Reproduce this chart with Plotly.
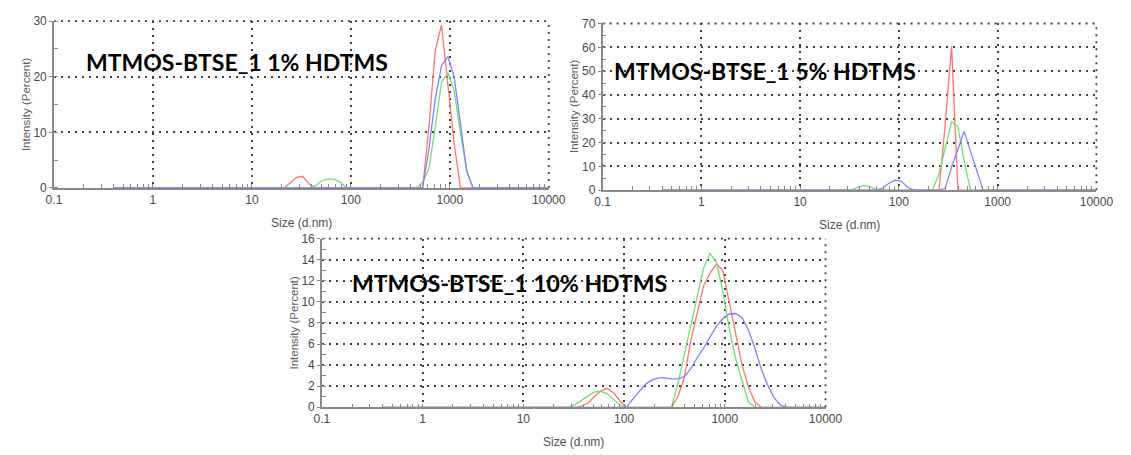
import plotly.graph_objects as go

# Malvern size bins (d.nm)
sizes = [0.4, 0.4632, 0.5365, 0.6213, 0.7195, 0.8332, 0.9649, 1.117, 1.294, 1.499,
         1.736, 2.01, 2.328, 2.696, 3.122, 3.615, 4.187, 4.849, 5.615, 6.503,
         7.531, 8.721, 10.1, 11.7, 13.54, 15.69, 18.17, 21.04, 24.36, 28.21,
         32.67, 37.84, 43.82, 50.75, 58.77, 68.06, 78.82, 91.28, 105.7, 122.4,
         141.8, 164.2, 190.1, 220.2, 255.0, 295.3, 342.0, 396.1, 458.7, 531.2,
         615.1, 712.4, 825.0, 955.4, 1106, 1281, 1484, 1718, 1990, 2305,
         2669, 3091, 3580, 4145, 4801, 5560, 6439, 7456, 8635, 10000]

# Panel 1: 1% HDTMS
p1_red = [0, 0, 0, 0, 0, 0, 0, 0, 0, 0,
          0, 0, 0, 0, 0, 0, 0, 0, 0, 0,
          0, 0, 0, 0, 0, 0, 0, 0, 0.9, 1.9,
          2.1, 0.7, 0, 0, 0, 0, 0, 0, 0, 0,
          0, 0, 0, 0, 0, 0, 0, 0, 0, 0,
          11, 24.7, 29.3, 19, 8, 0, 0, 0, 0, 0,
          0, 0, 0, 0, 0, 0, 0, 0, 0, 0]
p1_green = [0, 0, 0, 0, 0, 0, 0, 0, 0, 0,
            0, 0, 0, 0, 0, 0, 0, 0, 0, 0,
            0, 0, 0, 0, 0, 0, 0, 0, 0, 0,
            0, 0, 0.4, 1.3, 1.6, 1.6, 1.0, 0, 0, 0,
            0, 0, 0, 0, 0, 0, 0, 0, 0, 1.0,
            3.5, 11, 19, 20.7, 17.5, 10, 3, 0, 0, 0,
            0, 0, 0, 0, 0, 0, 0, 0, 0, 0]
p1_blue = [0, 0, 0, 0, 0, 0, 0, 0, 0, 0,
           0, 0, 0, 0, 0, 0, 0, 0, 0, 0,
           0, 0, 0, 0, 0, 0, 0, 0, 0, 0,
           0, 0, 0, 0, 0, 0, 0, 0, 0, 0,
           0, 0, 0, 0, 0, 0, 0, 0, 0, 0,
           7, 16, 22, 23.6, 20, 11.5, 3, 0, 0, 0,
           0, 0, 0, 0, 0, 0, 0, 0, 0, 0]

# Panel 2: 5% HDTMS
p2_red = [0, 0, 0, 0, 0, 0, 0, 0, 0, 0,
          0, 0, 0, 0, 0, 0, 0, 0, 0, 0,
          0, 0, 0, 0, 0, 0, 0, 0, 0, 0,
          0, 0, 0, 0, 0, 0, 0, 0, 0, 0,
          0, 0, 0, 0, 0, 28, 60.4, 0, 0, 0,
          0, 0, 0, 0, 0, 0, 0, 0, 0, 0,
          0, 0, 0, 0, 0, 0, 0, 0, 0, 0]
p2_green = [0, 0, 0, 0, 0, 0, 0, 0, 0, 0,
            0, 0, 0, 0, 0, 0, 0, 0, 0, 0,
            0, 0, 0, 0, 0, 0, 0, 0, 0, 0,
            0, 1.2, 2.0, 1.5, 0.4, 0, 0, 0, 0, 0,
            0, 0, 0, 0, 7, 18, 28.8, 26.7, 12.2, 0,
            0, 0, 0, 0, 0, 0, 0, 0, 0, 0,
            0, 0, 0, 0, 0, 0, 0, 0, 0, 0]
p2_blue = [0, 0, 0, 0, 0, 0, 0, 0, 0, 0,
           0, 0, 0, 0, 0, 0, 0, 0, 0, 0,
           0, 0, 0, 0, 0, 0, 0, 0, 0, 0,
           0, 0, 0, 0, 0, 0.8, 2.8, 4.2, 3.8, 1.2,
           0, 0, 0, 0, 0, 0.8, 9.8, 17.2, 24.7, 16.4,
           8.1, 0, 0, 0, 0, 0, 0, 0, 0, 0,
           0, 0, 0, 0, 0, 0, 0, 0, 0, 0]

# Panel 3: 10% HDTMS
p3_red = [0, 0, 0, 0, 0, 0, 0, 0, 0, 0,
          0, 0, 0, 0, 0, 0, 0, 0, 0, 0,
          0, 0, 0, 0, 0, 0, 0, 0, 0, 0,
          0, 0.1, 0.4, 1.0, 1.55, 1.8, 1.35, 0.6, 0, 0,
          0, 0, 0, 0, 0, 0, 1.0, 2.8, 6.3, 9.0,
          11.5, 12.7, 13.6, 13.0, 10, 6.8, 4.0, 1.9, 0.5, 0,
          0, 0, 0, 0, 0, 0, 0, 0, 0, 0]
p3_green = [0, 0, 0, 0, 0, 0, 0, 0, 0, 0,
            0, 0, 0, 0, 0, 0, 0, 0, 0, 0,
            0, 0, 0, 0, 0, 0, 0, 0, 0, 0,
            0.25, 0.65, 1.1, 1.45, 1.5, 1.3, 0.75, 0.2, 0, 0,
            0, 0, 0, 0, 0, 0, 2.2, 4.9, 7.7, 10.5,
            13.2, 14.6, 13.8, 11, 7.5, 4.6, 2.5, 0.5, 0, 0,
            0, 0, 0, 0, 0, 0, 0, 0, 0, 0]
p3_blue = [0, 0, 0, 0, 0, 0, 0, 0, 0, 0,
           0, 0, 0, 0, 0, 0, 0, 0, 0, 0,
           0, 0, 0, 0, 0, 0, 0, 0, 0, 0,
           0, 0, 0, 0, 0, 0, 0, 0, 0, 0.8,
           1.5, 2.2, 2.6, 2.8, 2.8, 2.7, 2.7, 2.9, 3.65, 4.7,
           5.6, 6.7, 7.7, 8.4, 8.85, 8.9, 8.5, 7.3, 5.6, 3.6,
           2.1, 0.9, 0.2, 0, 0, 0, 0, 0, 0, 0]

x_tickvals = [0.1, 1, 10, 100, 1000, 10000]
x_ticktext = ["0.1", "1", "10", "100", "1000", "10000"]
panel_titles = ["MTMOS-BTSE_1 1% HDTMS", "MTMOS-BTSE_1 5% HDTMS", "MTMOS-BTSE_1 10% HDTMS"]
y_ranges = [[0, 30], [0, 70], [0, 16]]
y_dticks = [10, 10, 2]
y_minor = [5, 5, 1]

W, H = 1131, 455
# plot areas in pixels: (left, right, top, bottom)
boxes = [(47, 553, 14.5, 186.7), (608, 1113, 17, 189), (321, 836, 239, 413)]
title_pos = [(78, 57), (618, 66.5), (350, 285)]

RED, GREEN, BLUE = "#ff7373", "#6fe06f", "#8080ff"
series = [(p1_red, p1_green, p1_blue), (p2_red, p2_green, p2_blue), (p3_red, p3_green, p3_blue)]

minor_vals = [m * 10 ** e for e in range(-1, 4) for m in range(2, 10)]

fig = go.Figure()
tick_font = dict(family="Liberation Sans, Arial, sans-serif", size=12, color="#484848")
GRID_COLOR, GRID_W, GRID_DASH = "#404040", 1.8, "2px,5px"
grid = dict(showgrid=True, gridcolor=GRID_COLOR, gridwidth=GRID_W, griddash=GRID_DASH)

for i, (r, g, b) in enumerate(series):
    sfx = "" if i == 0 else str(i + 1)
    for ys, col in ((r, RED), (g, GREEN), (b, BLUE)):
        fig.add_trace(go.Scatter(x=sizes, y=ys, mode="lines", xaxis="x" + sfx, yaxis="y" + sfx,
                                 line=dict(color=col, width=1.3), showlegend=False, hoverinfo="x+y"))
    L, R, T, B = boxes[i]
    xd = [L / W, R / W]
    yd = [1 - B / H, 1 - T / H]
    fig.layout["xaxis" + sfx] = dict(
        type="log", range=[-1, 4], domain=xd, anchor="y" + sfx,
        tickmode="array", tickvals=x_tickvals, ticktext=x_ticktext,
        ticks="inside", ticklen=4, tickcolor="#888", tickfont=tick_font,
        showline=True, linecolor="#8a8a8a", linewidth=1.5, zeroline=False,
        minor=dict(tickmode="array", tickvals=minor_vals, ticks="inside", ticklen=4,
                   tickcolor="#888", showgrid=False),
        **grid)
    fig.layout["yaxis" + sfx] = dict(
        range=y_ranges[i], domain=yd, anchor="x" + sfx, dtick=y_dticks[i],
        ticks="outside", ticklen=3, tickcolor="#888", tickfont=tick_font,
        showline=True, linecolor="#8a8a8a", linewidth=1.5, zeroline=False,
        minor=dict(dtick=y_minor[i], ticks="inside", ticklen=4, tickcolor="#888", showgrid=False),
        **grid)
    # dotted frame on top and right edges (grid lines at the range ends)
    edge = dict(color=GRID_COLOR, width=GRID_W, dash=GRID_DASH)
    fig.add_shape(type="line", xref="paper", yref="paper", x0=xd[0], x1=xd[1], y0=yd[1], y1=yd[1],
                  line=edge, layer="below")
    fig.add_shape(type="line", xref="paper", yref="paper", x0=xd[1], x1=xd[1], y0=yd[0], y1=yd[1],
                  line=edge, layer="below")
    # axis titles
    fig.add_annotation(text="Size (d.nm)", xref="paper", yref="paper",
                       x=(L + R) / 2 / W, y=1 - (B + 36) / H, showarrow=False,
                       xanchor="center", yanchor="middle",
                       font=dict(family="Liberation Sans, Arial, sans-serif", size=12, color="#505050"))
    fig.add_annotation(text="Intensity (Percent)", xref="paper", yref="paper",
                       x=(L - 29) / W, y=1 - (T + B) / 2 / H, showarrow=False, textangle=-90,
                       xanchor="center", yanchor="middle",
                       font=dict(family="Liberation Sans, Arial, sans-serif", size=11.5, color="#606060"))
    tx, ty = title_pos[i]
    fig.add_annotation(text="<b>" + panel_titles[i] + "</b>", xref="paper", yref="paper",
                       x=tx / W, y=1 - ty / H, showarrow=False, xanchor="left", yanchor="middle",
                       font=dict(family="Lato, Carlito, Calibri, sans-serif", size=23, color="#000"))

fig.update_layout(width=W, height=H, autosize=False, margin=dict(l=0, r=0, t=0, b=0),
                  paper_bgcolor="white", plot_bgcolor="white", showlegend=False)

fig.write_html("out.html", config={"displayModeBar": False},
               post_script="document.body.style.margin='0px';document.body.style.overflow='hidden';")
